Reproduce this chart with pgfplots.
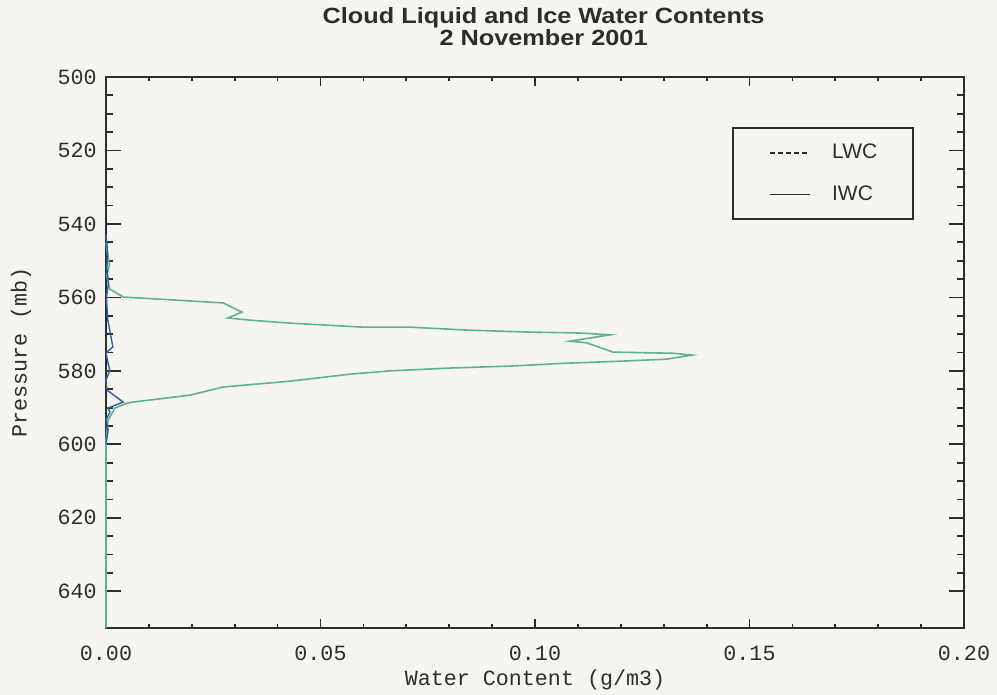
\documentclass[border=0pt]{standalone}
\usepackage{pgfplots}
\pgfplotsset{compat=1.18}
\usepackage{pgfplotstable}
\usepackage{fontspec}
\setmainfont{Liberation Sans}
\newfontfamily\monofont{Liberation Mono}
\newfontfamily\titlefont[FakeStretch=1.15]{Liberation Sans}

\definecolor{bg}{RGB}{246,245,240}
\definecolor{iwccol}{RGB}{92,180,140}
\definecolor{lwccol}{RGB}{45,95,165}
\definecolor{axisgray}{RGB}{45,45,45}

% ice water content profile: water content (g/m3) vs pressure (mb)
\pgfplotstableread{
w       p
0.0000  545.0
0.0003  548.0
0.0008  551.0
0.0002  554.0
0.0005  556.0
0.0009  557.7
0.0040  559.9
0.0156  560.7
0.0273  561.5
0.0317  564.0
0.0284  565.6
0.0336  566.2
0.0429  567.0
0.0599  568.1
0.0709  568.1
0.0841  568.9
0.0972  569.4
0.1105  569.7
0.1175  570.2
0.1082  571.9
0.1121  572.4
0.1182  574.9
0.1322  575.2
0.1366  575.7
0.1308  576.8
0.1214  577.3
0.1075  577.9
0.0942  578.7
0.0809  579.2
0.0662  580.0
0.0569  580.9
0.0429  582.8
0.0273  584.4
0.0196  586.6
0.0063  588.5
0.0049  588.8
0.0021  590.1
0.0005  593.4
0.0000  598.8
0.0000  650.0
}\iwc

% liquid water content profile
\pgfplotstableread{
w       p
0.0000  543.0
0.0004  548.0
0.0002  552.0
0.0006  556.0
0.0001  560.0
0.0004  566.0
0.0016  573.5
0.0000  575.1
0.0005  578.0
0.0009  579.8
0.0000  582.5
0.0002  585.2
0.0040  588.5
0.0005  590.1
0.0009  591.2
0.0000  593.4
0.0005  596.0
0.0000  600.0
}\lwc

\begin{document}
\begin{tikzpicture}
\fill[bg] (-53pt,-33.5pt) rectangle (445.5pt,314pt);
\path[use as bounding box] (-53pt,-33.5pt) rectangle (445.5pt,314pt);
\begin{axis}[
  at={(0,0)}, anchor=south west,
  width=429pt, height=275.5pt, scale only axis,
  xmin=0, xmax=0.2, ymin=500, ymax=650, y dir=reverse,
  xtick={0,0.05,0.1,0.15,0.2},
  xticklabels={0.00,0.05,0.10,0.15,0.20},
  minor x tick num=4,
  ytick={500,520,540,560,580,600,620,640},
  minor y tick num=3,
  tick align=inside,
  major tick length=7.5pt, minor tick length=3.5pt,
  xtick style={/pgfplots/major tick length=4.5pt, /pgfplots/minor tick length=1.8pt},
  axis line style={axisgray, line width=1pt},
  every tick/.style={axisgray, line width=0.9pt},
  /pgf/number format/assume math mode=true,
  tick label style={font=\monofont\fontsize{10.85}{12}\selectfont, text=axisgray},
  xticklabel style={anchor=center, inner sep=0pt, yshift=-12.5pt},
  yticklabel style={anchor=east, inner sep=0pt, xshift=-4.5pt},
  xlabel={Water Content (g/m3)},
  ylabel={Pressure (mb)},
  label style={font=\monofont\fontsize{10.85}{12}\selectfont, text=axisgray},
  xlabel style={at={(axis description cs:0.5,0)}, anchor=center, yshift=-26pt},
  ylabel style={at={(axis description cs:0,0.5)}, anchor=center, yshift=42.5pt},
  title={Cloud Liquid and Ice Water Contents\\2 November 2001},
  title style={font=\titlefont\bfseries\fontsize{11}{10}\selectfont, align=center,
    text=axisgray, at={(axis description cs:0.51,1)}, anchor=south, inner sep=0pt, yshift=9.25pt},
  clip=false,
  legend style={at={(axis description cs:0.942,0.909)}, anchor=north east,
    draw=axisgray, line width=1pt, fill=none,
    font=\fontsize{10.5}{12}\selectfont, text=axisgray,
    inner xsep=18pt, inner ysep=8pt, row sep=12pt,
    nodes={inner sep=0pt},
    /tikz/every odd column/.append style={column sep=11pt}},
  legend cell align=left,
  legend image code/.code={\draw[#1] (0pt,0pt) -- (20pt,0pt);},
]
\addlegendimage{axisgray, line width=0.6pt, dash pattern=on 2.5pt off 1.5pt}
\addlegendentry{LWC}
\addlegendimage{axisgray, line width=0.6pt}
\addlegendentry{IWC}
\addplot[iwccol, line width=0.8pt, forget plot] table[x=w, y=p] {\iwc};
\addplot[lwccol, line width=0.7pt, forget plot] table[x=w, y=p] {\lwc};
\end{axis}
\end{tikzpicture}
\end{document}
